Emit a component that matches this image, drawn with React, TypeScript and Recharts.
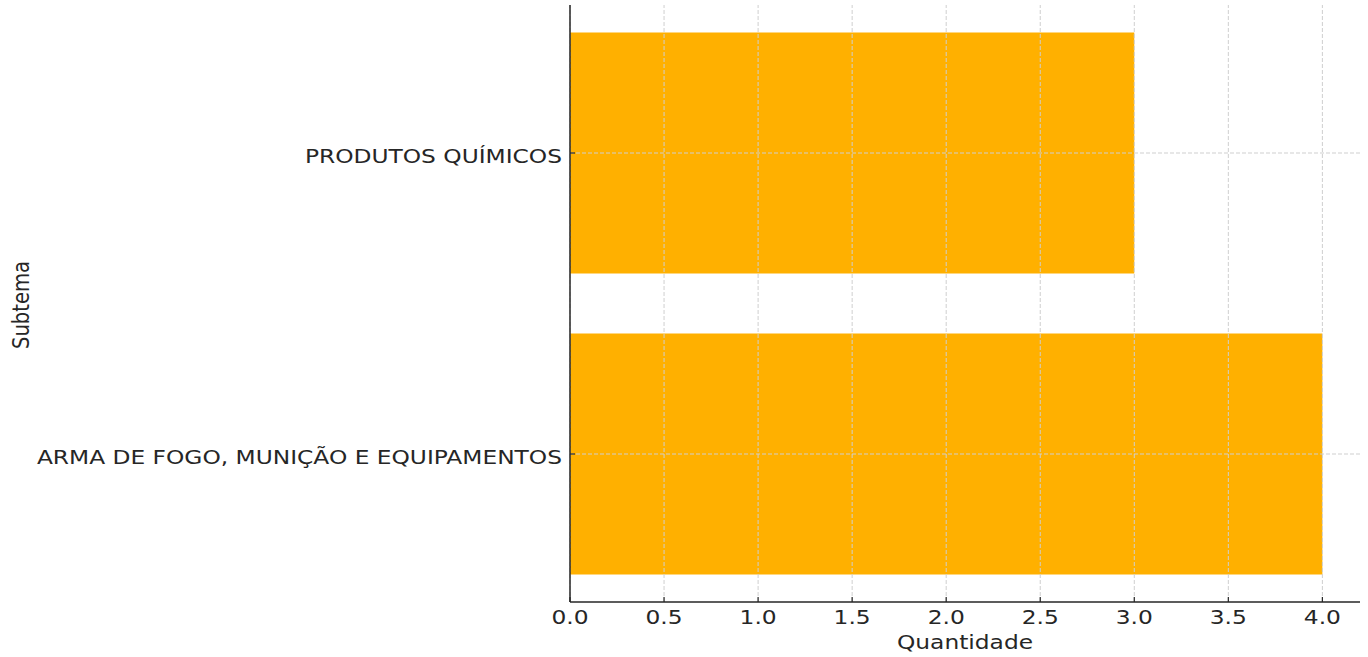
import React from "react";
import { BarChart, Bar, XAxis, YAxis, ReferenceLine } from "recharts";

const subtemas = ["PRODUTOS QUÍMICOS", "ARMA DE FOGO, MUNIÇÃO E EQUIPAMENTOS"];
const quantidades = [3, 4];
const xTicks = [0, 0.5, 1, 1.5, 2, 2.5, 3, 3.5, 4];

const BAR_COLOR = "#FFB000";
const INK = "#262626";
const GRID = "#cfcfcf";
const FONT = "'DejaVu Sans', sans-serif";
const FONT_SIZE = 19.6;
const STRETCH = 1.19;

const data = subtemas.map((s, i) => ({ subtema: s, quantidade: quantidades[i] }));

function YTick(props: any) {
  const { x, y, payload } = props;
  return (
    <g>
      <line x1={x} x2={x + 5} y1={y} y2={y} stroke={INK} strokeWidth={1.2} />
      <text
        transform={`translate(${x - 8},${y + 9.5}) scale(${STRETCH},1)`}
        textAnchor="end"
        fontFamily={FONT}
        fontSize={FONT_SIZE}
        fill={INK}
      >
        {payload.value}
      </text>
    </g>
  );
}

function XTick(props: any) {
  const { x, y, payload } = props;
  return (
    <g>
      <line x1={x} x2={x} y1={y} y2={y - 5} stroke={INK} strokeWidth={1.2} />
      <text
        transform={`translate(${x},${y + 22}) scale(${STRETCH},1)`}
        textAnchor="middle"
        fontFamily={FONT}
        fontSize={FONT_SIZE}
        fill={INK}
      >
        {Number(payload.value).toFixed(1)}
      </text>
    </g>
  );
}

export default function App() {
  return (
    <div style={{ position: "absolute", left: 0, top: 0 }}>
      <BarChart
        width={1368}
        height={657}
        data={data}
        layout="vertical"
        margin={{ top: 5, right: 8, bottom: 0, left: 0 }}
      >
        <XAxis
          type="number"
          dataKey="quantidade"
          domain={[0, 4.2]}
          ticks={xTicks}
          interval={0}
          height={55}
          tickSize={0}
          tickMargin={0}
          tickLine={false}
          tick={<XTick />}
          axisLine={{ stroke: INK, strokeWidth: 1.5 }}
          label={{
            content: () => (
              <text
                transform={`translate(965,649) scale(${STRETCH},1)`}
                textAnchor="middle"
                fontFamily={FONT}
                fontSize={FONT_SIZE}
                fill={INK}
              >
                Quantidade
              </text>
            ),
          }}
        />
        <YAxis
          type="category"
          dataKey="subtema"
          width={570}
          padding={{ top: -2.5, bottom: -2.5 }}
          tickSize={0}
          tickMargin={0}
          tickLine={false}
          tick={<YTick />}
          interval={0}
          axisLine={{ stroke: INK, strokeWidth: 1.5 }}
          label={{
            content: () => (
              <text
                transform={`translate(29,305) scale(${STRETCH},1) rotate(-90)`}
                textAnchor="middle"
                fontFamily={FONT}
                fontSize={FONT_SIZE}
                fill={INK}
              >
                Subtema
              </text>
            ),
          }}
        />
        <Bar dataKey="quantidade" fill={BAR_COLOR} barSize={241} isAnimationActive={false} />
        {xTicks.map((t) => (
          <ReferenceLine
            key={`gx-${t}`}
            x={t}
            stroke={GRID}
            strokeWidth={1}
            strokeDasharray="4 2"
          />
        ))}
        {subtemas.map((s) => (
          <ReferenceLine
            key={`gy-${s}`}
            y={s}
            stroke={GRID}
            strokeWidth={1}
            strokeDasharray="4 2"
          />
        ))}
      </BarChart>
    </div>
  );
}
